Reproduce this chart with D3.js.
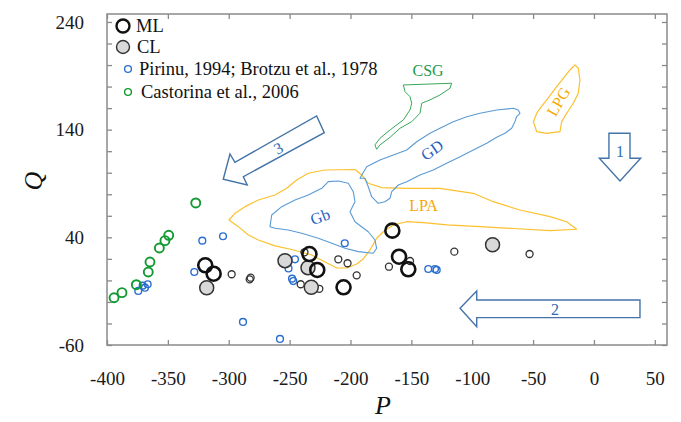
<!DOCTYPE html>
<html><head><meta charset="utf-8">
<script src="https://cdn.jsdelivr.net/npm/d3@7"></script>
<style>body{margin:0;background:#fff}svg{display:block}</style>
</head><body>
<svg id="c" width="681" height="422"></svg>
<script>
// ---------- data ----------
const xTicks = [-400,-350,-300,-250,-200,-150,-100,-50,0,50];
const yTicks = [-60,-40,-20,0,20,40,60,80,100,120,140,160,180,200,220,240];
const yLabels = [-60,40,140,240];

const mlPoints = [[-319.3,14.0],[-312.4,6.2],[-233.7,24.5],[-227.3,9.7],[-205.7,-6.4],[-165.6,46.2],[-160.1,22.0],[-152.5,10.3]];
const clPoints = [[-318.1,-6.8],[-253.8,18.3],[-234.9,11.8],[-232.2,-6.4],[-83.3,33.1]];
const smallBlackPoints = [[-297.6,5.7],[-282.8,1.0],[-282.0,2.5],[-240.9,-3.6],[-237.8,26.1],[-225.6,-7.8],[-210.0,19.6],[-202.4,15.9],[-194.9,4.7],[-168.4,12.7],[-151.1,18.0],[-114.7,26.7],[-52.9,24.5]];
const pirinuPoints = [[-374.3,-9.8],[-370.7,-4.9],[-368.8,-6.8],[-366.6,-3.6],[-328.3,7.8],[-321.7,36.9],[-304.7,41.0],[-288.3,-38.6],[-257.9,-54.4],[-245.6,19.6],[-250.9,11.1],[-248.0,1.6],[-247.0,-0.6],[-204.7,34.5],[-136.1,10.6],[-130.6,10.6],[-129.2,9.7]];
const castorinaPoints = [[-394.2,-16.1],[-387.7,-11.4],[-375.9,-4.0],[-366.1,7.8],[-364.7,17.1],[-357.0,30.1],[-352.4,36.9],[-349.3,41.9],[-327.1,71.9]];

const fieldCSG = [[-156.6,181.5],[-116.9,183.1],[-118.3,178.4],[-126.5,172.2],[-134.7,167.6],[-141.5,164.5],[-142.9,155.2],[-149.7,147.4],[-159.3,141.3],[-167.5,132.9],[-175.8,125.8],[-178.5,121.8],[-179.9,125.8],[-175.8,132.0],[-167.5,139.7],[-156.6,149.0],[-151.1,158.3],[-149.7,164.5],[-151.1,170.6],[-155.2,175.3]];
const fieldGD = [[-192.2,94.8],[-186.7,105.6],[-175.8,111.8],[-164.8,116.5],[-153.8,121.1],[-145.6,128.8],[-134.7,136.6],[-126.5,141.3],[-115.6,147.4],[-104.5,152.0],[-93.6,155.2],[-79.9,158.3],[-66.3,159.8],[-62.2,158.3],[-60.8,155.2],[-63.5,152.0],[-64.9,147.4],[-67.6,141.3],[-73.1,136.6],[-79.9,132.9],[-88.1,127.3],[-99.1,121.1],[-110.0,114.9],[-121.0,108.8],[-132.0,102.5],[-142.9,97.9],[-153.8,91.7],[-160.7,88.6],[-166.1,82.4],[-167.5,76.3],[-171.7,73.1],[-177.2,71.6],[-182.6,77.7],[-185.4,87.0],[-188.1,94.8]];
const fieldLPG = [[-44.3,159.8],[-38.8,167.6],[-30.6,179.9],[-19.7,195.4],[-15.6,200.1],[-12.9,197.0],[-11.5,186.1],[-12.9,173.8],[-17.0,164.5],[-22.4,155.2],[-26.5,147.4],[-27.9,138.1],[-38.8,136.6],[-47.0,138.1],[-49.8,147.4],[-47.0,155.2]];
const fieldLPA = [[-299.8,56.1],[-294.9,62.3],[-286.6,68.5],[-275.7,74.7],[-262.0,79.3],[-252.4,85.5],[-244.2,93.3],[-234.7,99.5],[-220.9,102.5],[-196.3,103.0],[-190.8,97.9],[-185.4,90.2],[-174.4,86.1],[-153.8,85.5],[-126.5,85.5],[-99.1,80.9],[-82.7,73.1],[-60.8,65.4],[-36.1,59.2],[-22.4,54.5],[-14.2,47.5],[-36.1,46.2],[-66.3,48.2],[-93.6,49.9],[-120.7,51.5],[-140.2,53.6],[-153.8,54.5],[-164.8,51.5],[-173.0,45.2],[-178.5,39.1],[-184.0,28.2],[-189.5,19.9],[-194.9,15.2],[-202.9,11.5],[-211.1,11.5],[-220.9,17.1],[-231.9,23.6],[-248.3,28.7],[-262.0,32.0],[-275.7,37.5],[-283.9,42.2],[-292.1,49.9]];
const fieldGb = [[-266.1,49.9],[-264.7,60.7],[-256.5,68.5],[-245.6,74.7],[-234.7,79.3],[-223.6,85.5],[-218.2,91.7],[-210.0,92.3],[-201.8,90.2],[-197.7,82.4],[-196.3,73.1],[-200.4,63.8],[-196.3,54.5],[-185.4,45.2],[-179.9,37.5],[-178.5,29.8],[-181.3,25.2],[-193.6,26.7],[-204.5,29.8],[-215.4,34.5],[-226.4,39.1],[-240.1,43.7],[-251.1,46.8],[-262.0,48.4]];

const arrow1 = [[12.3,136.6],[29.6,136.6],[29.6,113.4],[38.4,113.4],[21.4,92.3],[4.4,113.4],[12.3,113.4]];
const arrow2 = [[-110.0,-25.9],[-96.3,-9.8],[-96.3,-18.2],[37.8,-18.2],[37.8,-34.6],[-96.3,-34.6],[-96.3,-43.0]];
const arrow3 = [[-304.5,93.9],[-299.0,117.4],[-294.9,109.7],[-227.8,152.7],[-221.5,137.2],[-288.0,96.3],[-284.8,88.6]];

const fieldLabels = [
  {t:"CSG", x:-136.3, y:195.4, r:0,   c:"#1f9a4a"},
  {t:"GD",  x:-133.0, y:121.1, r:-35, c:"#1f5fbf"},
  {t:"LPG", x:-29.3,  y:166.0, r:-60, c:"#f5a800"},
  {t:"Gb",  x:-225.0, y:59.2,  r:-20, c:"#1f5fbf"},
  {t:"LPA", x:-140.0, y:70.0,  r:0,   c:"#f5a800"}
];
const arrowLabels = [
  {t:"1", x:21.4,   y:119.5, r:0},
  {t:"2", x:-32.0,  y:-26.6, r:0},
  {t:"3", x:-259.3, y:122.7, r:-29}
];
const legendItems = ["ML","CL","Pirinu, 1994; Brotzu et al., 1978","Castorina et al., 2006"];

// ---------- chart ----------
const W=681,H=422, m={l:107,r:14,t:14,b:77};
const svg=d3.select("#c");
const x=d3.scaleLinear().domain([-400,60]).range([m.l,W-m.r]);
const y=d3.scaleLinear().domain([-60,247.4]).range([H-m.b,m.t]);
const font="'Liberation Serif','Times New Roman',serif";
const axisCol="#8a8a8a";

const line=d3.line().x(d=>x(d[0])).y(d=>y(d[1])).curve(d3.curveLinearClosed);

// fields
const fields=[[fieldLPA,"#fcc02e",1.2],[fieldGb,"#5b9bd5",1.1],[fieldGD,"#5b9bd5",1.1],[fieldCSG,"#38a85a",1.0],[fieldLPG,"#fcc02e",1.2]];
fields.forEach(f=>svg.append("path").attr("d",line(f[0])).attr("fill","none").attr("stroke",f[1]).attr("stroke-width",f[2]).attr("stroke-linejoin","round"));

fieldLabels.forEach(l=>svg.append("text").attr("transform",`translate(${x(l.x)},${y(l.y)}) rotate(${l.r})`)
  .attr("text-anchor","middle").attr("dy","0.35em").attr("font-family",font).attr("font-size",16).attr("fill",l.c).text(l.t));

// arrows
[arrow1,arrow2,arrow3].forEach(a=>svg.append("path").attr("d",line(a)).attr("fill","#fff").attr("stroke","#4473a8").attr("stroke-width",1.4).attr("stroke-linejoin","miter"));
arrowLabels.forEach(l=>svg.append("text").attr("transform",`translate(${x(l.x)},${y(l.y)}) rotate(${l.r})`)
  .attr("text-anchor","middle").attr("dy","0.35em").attr("font-family",font).attr("font-size",16).attr("fill","#2e6db4").text(l.t));

// points
function pts(data,r,stroke,sw,fill){
  svg.append("g").selectAll("circle").data(data).join("circle")
    .attr("cx",d=>x(d[0])).attr("cy",d=>y(d[1])).attr("r",r)
    .attr("fill",fill).attr("stroke",stroke).attr("stroke-width",sw);
}
pts(pirinuPoints,3.4,"#2a6fcf",1.4,"none");
pts(castorinaPoints,4.5,"#129a32",1.9,"none");
pts(smallBlackPoints,3.5,"#333",1.3,"none");
pts(clPoints,7,"#333",1.5,"#d9d9d9");
pts(mlPoints,7,"#111",2.6,"none");

// axes
const gBottom=svg.append("g").attr("transform",`translate(0,${H-m.b})`)
  .call(d3.axisBottom(x).tickValues(xTicks).tickSizeInner(-5).tickSizeOuter(0).tickPadding(27).tickFormat(d=>d));
const gTop=svg.append("g").attr("transform",`translate(0,${m.t})`)
  .call(d3.axisTop(x).tickValues(xTicks).tickSizeInner(-5).tickSizeOuter(0).tickFormat(""));
const gLeft=svg.append("g").attr("transform",`translate(${m.l},0)`)
  .call(d3.axisLeft(y).tickValues(yTicks).tickSizeInner(-5).tickSizeOuter(0).tickPadding(23).tickFormat(d=>yLabels.includes(d)?d:""));
const gRight=svg.append("g").attr("transform",`translate(${W-m.r},0)`)
  .call(d3.axisRight(y).tickValues(yTicks).tickSizeInner(-5).tickSizeOuter(0).tickFormat(""));
[gBottom,gTop,gLeft,gRight].forEach(g=>{
  g.selectAll(".domain").remove();
  g.selectAll(".tick line").attr("stroke",axisCol).attr("stroke-width",1.3);
  g.selectAll("text").attr("font-family",font).attr("font-size",19).attr("fill","#1a1a1a");
});
svg.append("rect").attr("x",m.l).attr("y",m.t).attr("width",W-m.l-m.r).attr("height",H-m.t-m.b)
  .attr("fill","none").attr("stroke",axisCol).attr("stroke-width",1.5);

// axis titles
svg.append("text").attr("x",(m.l+W-m.r)/2-4).attr("y",414).attr("text-anchor","middle")
  .attr("font-family",font).attr("font-style","italic").attr("font-size",26).attr("fill","#111").text("P");
svg.append("text").attr("transform","translate(42,181) rotate(-90)").attr("text-anchor","middle")
  .attr("font-family",font).attr("font-style","italic").attr("font-size",26).attr("fill","#111").text("Q");

// legend
const lg=svg.append("g");
const ly=[26,47,69,92], lx=[123,123,128,128];
lg.append("circle").attr("cx",lx[0]).attr("cy",ly[0]).attr("r",6.5).attr("fill","none").attr("stroke","#111").attr("stroke-width",2.4);
lg.append("circle").attr("cx",lx[1]).attr("cy",ly[1]).attr("r",6.5).attr("fill","#d9d9d9").attr("stroke","#333").attr("stroke-width",1.4);
lg.append("circle").attr("cx",lx[2]).attr("cy",ly[2]).attr("r",3.4).attr("fill","none").attr("stroke","#2a6fcf").attr("stroke-width",1.4);
lg.append("circle").attr("cx",lx[3]).attr("cy",ly[3]).attr("r",3.4).attr("fill","none").attr("stroke","#129a32").attr("stroke-width",1.4);
const tx=[136,137,139,141];
legendItems.forEach((t,i)=>lg.append("text").attr("x",tx[i]).attr("y",ly[i]).attr("dy","0.35em")
  .attr("font-family",font).attr("font-size",18.5).attr("fill","#111").text(t));
</script>
</body></html>
